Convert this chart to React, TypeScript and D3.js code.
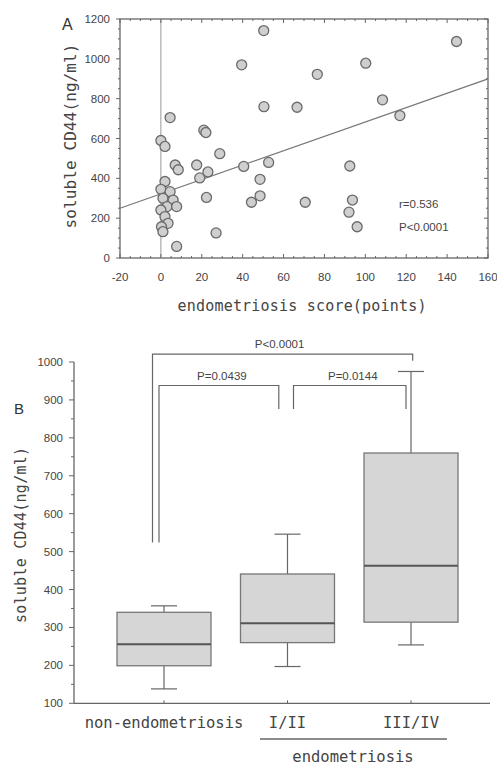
import React from 'react';
import * as d3 from 'd3';

// Panel A: endometriosis score vs soluble CD44
const scoreX = [0, 2, 4.5, 2, 0, 4.5, 1, 6, 3, 7.7, 0, 2, 3.5, 0.3, 1, 7, 8.5, 17.5, 19, 21, 22, 23, 22.3, 27, 7.7, 28.8, 39.5, 40.5, 44.3, 48.5, 48.5, 50.3, 50.4, 52.7, 66.6, 70.6, 76.5, 92.4, 93.7, 92, 96, 100.2, 108.4, 116.9, 144.6];
const cd44Y = [590, 560, 705, 384, 345, 333, 300, 291, 258, 258, 241, 208, 174, 157, 132, 467, 443, 467, 402, 642, 630, 432, 304, 126, 58, 524, 970, 460, 280, 312, 395, 1142, 760, 480, 757, 280, 922, 462, 291, 230, 157, 978, 794, 715, 1087];
const regIntercept = 322;
const regSlope = 3.61;
const xTicksA = [-20, 0, 20, 40, 60, 80, 100, 120, 140, 160];
const yTicksA = [0, 200, 400, 600, 800, 1000, 1200];

// Panel B: box plots
const groups = ['non-endometriosis', 'I/II', 'III/IV'];
const whiskerLow = [138, 197, 254];
const q1 = [199, 260, 314];
const median = [256, 311, 463];
const q3 = [340, 441, 760];
const whiskerHigh = [357, 546, 975];
const yTicksB = [100, 200, 300, 400, 500, 600, 700, 800, 900, 1000];

// significance brackets: [from group, to group, top value, left leg end, right leg end, label]
const brackets: [number, number, number, number, number, string][] = [
  [0, 2, 1021, 524, 1003, 'P<0.0001'],
  [0, 1, 938, 524, 876, 'P=0.0439'],
  [1, 2, 938, 876, 876, 'P=0.0144'],
];

const TXT = '#444';
const LN = '#666';
const MONO = '"DejaVu Sans Mono", "Liberation Mono", monospace';
const SANS = '"Liberation Sans", Arial, sans-serif';

const PanelA: React.FC = () => {
  const x = d3.scaleLinear().domain([-20, 160]).range([120, 488]);
  const y = d3.scaleLinear().domain([0, 1200]).range([258, 19]);
  const minorX = d3.range(-20, 160.1, 5);
  const minorY = d3.range(0, 1200.1, 50);
  const pts = scoreX.map((s, i) => [s, cd44Y[i]] as [number, number]);
  const reg = d3.line<number>().x(d => x(d)).y(d => y(regIntercept + regSlope * d));
  return (
    <g>
      <text x={62} y={30} fontFamily={SANS} fontSize={16} fill="#333">A</text>
      <rect x={x(-20)} y={y(1200)} width={x(160) - x(-20)} height={y(0) - y(1200)} fill="none" stroke={LN} strokeWidth={1.3} />
      <line x1={x(0)} x2={x(0)} y1={y(0)} y2={y(1200)} stroke="#999" strokeWidth={1} />
      {minorX.map(v => (
        <g key={'mx' + v}>
          <line x1={x(v)} x2={x(v)} y1={y(0)} y2={y(0) - (v % 20 === 0 ? 4 : 2)} stroke={LN} />
          <line x1={x(v)} x2={x(v)} y1={y(1200)} y2={y(1200) + (v % 20 === 0 ? 4 : 2)} stroke={LN} />
        </g>
      ))}
      {minorY.map(v => (
        <g key={'my' + v}>
          <line x1={x(-20)} x2={x(-20) - (v % 200 === 0 ? 4 : 2)} y1={y(v)} y2={y(v)} stroke={LN} />
          <line x1={x(160)} x2={x(160) - (v % 200 === 0 ? 4 : 2)} y1={y(v)} y2={y(v)} stroke={LN} />
        </g>
      ))}
      {xTicksA.map(v => (
        <text key={'xt' + v} x={x(v)} y={281} textAnchor="middle" fontFamily={SANS} fontSize={11.5} fill={TXT}>{v}</text>
      ))}
      {yTicksA.map(v => (
        <text key={'yt' + v} x={110} y={y(v) + 4} textAnchor="end" fontFamily={SANS} fontSize={11.5} fill={TXT}>{v}</text>
      ))}
      <path d={reg([-20, 160]) || ''} fill="none" stroke="#777" strokeWidth={1.2} />
      {pts.map((p, i) => (
        <circle key={i} cx={x(p[0])} cy={y(p[1])} r={5} fill="#cfcfcf" stroke="#6a6a6a" strokeWidth={1.3} />
      ))}
      <text x={399} y={208} fontFamily={SANS} fontSize={11.5} fill={TXT}>r=0.536</text>
      <text x={399} y={231} fontFamily={SANS} fontSize={11.5} fill={TXT}>P&lt;0.0001</text>
      <text x={302} y={311} textAnchor="middle" fontFamily={MONO} fontSize={15} textLength={249} lengthAdjust="spacing" fill={TXT}>endometriosis score(points)</text>
      <text transform="translate(76,136) rotate(-90)" textAnchor="middle" fontFamily={MONO} fontSize={16} textLength={185} lengthAdjust="spacing" fill={TXT}>soluble CD44(ng/ml)</text>
    </g>
  );
};

const PanelB: React.FC = () => {
  const x = d3.scalePoint<string>().domain(groups).range([164, 411]);
  const y = d3.scaleLinear().domain([100, 1000]).range([703.3, 362]);
  const minorY = d3.range(100, 1000.1, 50);
  const bw = 94;
  const cap = 13;
  return (
    <g>
      <text x={14} y={414} fontFamily={SANS} fontSize={15} fill="#333">B</text>
      <line x1={74} x2={74} y1={y(100)} y2={y(1000)} stroke={LN} strokeWidth={1.3} />
      <line x1={74} x2={490} y1={y(100)} y2={y(100)} stroke={LN} strokeWidth={1.3} />
      {minorY.map(v => (
        <line key={'m' + v} x1={74} x2={74 - (v % 100 === 0 ? 5 : 3)} y1={y(v)} y2={y(v)} stroke={LN} />
      ))}
      {yTicksB.map(v => (
        <text key={'t' + v} x={63} y={y(v) + 4} textAnchor="end" fontFamily={SANS} fontSize={11.5} fill={TXT}>{v}</text>
      ))}
      {groups.map((g, i) => {
        const cx = x(g) as number;
        return (
          <g key={g}>
            <line x1={cx} x2={cx} y1={y(100)} y2={y(100) - 3} stroke={LN} />
            <line x1={cx} x2={cx} y1={y(whiskerHigh[i])} y2={y(q3[i])} stroke={LN} strokeWidth={1.2} />
            <line x1={cx} x2={cx} y1={y(q1[i])} y2={y(whiskerLow[i])} stroke={LN} strokeWidth={1.2} />
            <line x1={cx - cap} x2={cx + cap} y1={y(whiskerHigh[i])} y2={y(whiskerHigh[i])} stroke={LN} strokeWidth={1.2} />
            <line x1={cx - cap} x2={cx + cap} y1={y(whiskerLow[i])} y2={y(whiskerLow[i])} stroke={LN} strokeWidth={1.2} />
            <rect x={cx - bw / 2} y={y(q3[i])} width={bw} height={y(q1[i]) - y(q3[i])} fill="#d6d6d6" stroke="#777" strokeWidth={1.3} />
            <line x1={cx - bw / 2} x2={cx + bw / 2} y1={y(median[i])} y2={y(median[i])} stroke="#555" strokeWidth={2} />
            <text x={cx} y={728} textAnchor="middle" fontFamily={MONO} fontSize={15.5} fill={TXT}>{g}</text>
          </g>
        );
      })}
      {brackets.map(([a, b, top, l, r, lab], i) => {
        const off = i === 0 ? 11.5 : 5;
        const xa = (x(groups[a]) as number) - off;
        const xb = (x(groups[b]) as number) + (i === 0 ? 1.7 : -off);
        const xl = i === 2 ? (x(groups[a]) as number) + 6 : xa;
        const xr = i === 1 ? (x(groups[b]) as number) - 8.7 : xb;
        return (
          <g key={lab}>
            <path d={`M${xl},${y(l)}V${y(top)}H${xr}V${y(r)}`} fill="none" stroke={LN} strokeWidth={1.2} />
            <text x={(xl + xr) / 2 + (i === 0 ? -3 : 3)} y={y(top) - 6} textAnchor="middle" fontFamily={SANS} fontSize={11.5} fill={TXT}>{lab}</text>
          </g>
        );
      })}
      <line x1={260} x2={447} y1={739} y2={739} stroke={LN} strokeWidth={1.3} />
      <text x={353} y={762} textAnchor="middle" fontFamily={MONO} fontSize={15.5} fill={TXT}>endometriosis</text>
      <text transform="translate(26,535) rotate(-90)" textAnchor="middle" fontFamily={MONO} fontSize={15} textLength={176} lengthAdjust="spacing" fill={TXT}>soluble CD44(ng/ml)</text>
    </g>
  );
};

export default function App() {
  return (
    <svg width={497} height={765} style={{ position: 'absolute', left: 0, top: 0, background: '#fff' }}>
      <rect width={497} height={765} fill="#fff" />
      <PanelA />
      <PanelB />
    </svg>
  );
}
